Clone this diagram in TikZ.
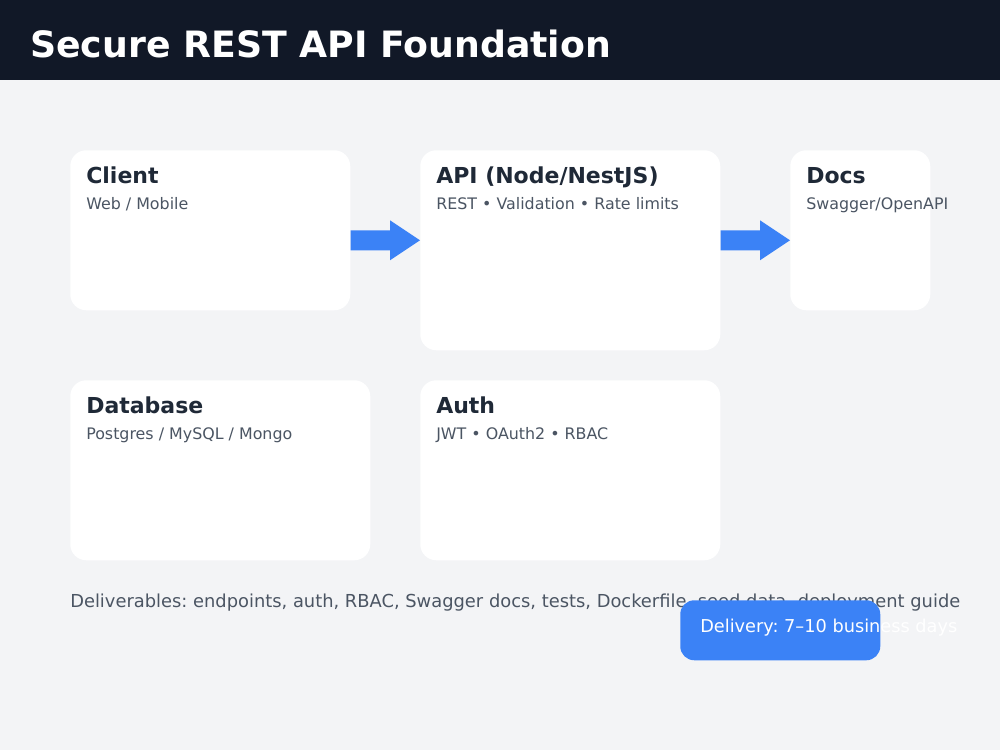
\documentclass[tikz,border=0pt]{standalone}
\usepackage{fontspec}
\setmainfont{DejaVu Sans}
\usetikzlibrary{calc}
\frenchspacing
\definecolor{bg}{HTML}{F3F4F6}
\definecolor{hdr}{HTML}{111827}
\definecolor{ttl}{HTML}{1F2937}
\definecolor{sub}{HTML}{4B5563}
\definecolor{blu}{HTML}{3B82F6}
\tikzset{
  x=0.75pt, y=-0.75pt,
  card/.style={fill=white, rounded corners=12pt, inner sep=0pt, anchor=north west},
  cardtitle/.style={anchor=base west, inner sep=0pt, text=ttl, font=\bfseries\fontsize{16.5}{20}\selectfont},
  cardsub/.style={anchor=base west, inner sep=0pt, text=sub, font=\fontsize{11.9}{14}\selectfont},
  flow/.style={fill=blu},
}
\begin{document}
\begin{tikzpicture}
\useasboundingbox (0,0) rectangle (1000,750);
\fill[bg] (0,0) rectangle (1000,750);
\fill[hdr] (0,0) rectangle (1000,80);
\node[anchor=base west, inner sep=0pt, text=white, font=\bfseries\fontsize{27.2}{32}\selectfont] (title) at (30,57) {Secure REST API Foundation};

\node[card, minimum width=210pt, minimum height=120pt] (client) at (70,150) {};
\node[card, minimum width=225pt, minimum height=150pt] (api) at (420,150) {};
\node[card, minimum width=105pt, minimum height=120pt] (docs) at (790,150) {};
\node[card, minimum width=225pt, minimum height=135pt] (db) at (70,380) {};
\node[card, minimum width=225pt, minimum height=135pt] (auth) at (420,380) {};

\node[cardtitle] (clientT) at (86,183) {Client};
\node[cardsub] (clientS) at (86,209) {Web / Mobile};
\node[cardtitle] (apiT) at (436,183) {API (Node/NestJS)};
\node[cardsub] (apiS) at (436,209) {REST • Validation • Rate limits};
\node[cardtitle] (docsT) at (806,183) {Docs};
\node[cardsub] (docsS) at (806,209) {Swagger/OpenAPI};
\node[cardtitle] (dbT) at (86,413) {Database};
\node[cardsub] (dbS) at (86,439) {Postgres / MySQL / Mongo};
\node[cardtitle] (authT) at (436,413) {Auth};
\node[cardsub] (authS) at (436,439) {JWT • OAuth2 • RBAC};

% block arrows
\coordinate (a1s) at ($(client.east)+(0,10)$);
\coordinate (a1e) at ($(api.west)+(0,-10)$);
\fill[flow] ($(a1s)+(0,-10)$) -- ($(a1e)+(-30,-10)$) -- ($(a1e)+(-30,-20)$) -- (a1e) -- ($(a1e)+(-30,20)$) -- ($(a1e)+(-30,10)$) -- ($(a1s)+(0,10)$) -- cycle;
\coordinate (a2s) at ($(api.east)+(0,-10)$);
\coordinate (a2e) at ($(docs.west)+(0,10)$);
\fill[flow] ($(a2s)+(0,-10)$) -- ($(a2e)+(-30,-10)$) -- ($(a2e)+(-30,-20)$) -- (a2e) -- ($(a2e)+(-30,20)$) -- ($(a2e)+(-30,10)$) -- ($(a2s)+(0,10)$) -- cycle;

\node[anchor=base west, inner sep=0pt, text=sub, font=\fontsize{13.4}{16}\selectfont] (deliv) at (70,607) {Deliverables: endpoints, auth, RBAC, Swagger docs, tests, Dockerfile, seed data, deployment guide};
\node[fill=blu, rounded corners=10.5pt, inner sep=0pt, anchor=north west, minimum width=150pt, minimum height=45pt] (badge) at (680,600) {};
\node[anchor=base west, inner sep=0pt, text=white, font=\fontsize{13.3}{16}\selectfont] (badgeT) at (700,632) {Delivery: 7–10 business days};
\end{tikzpicture}
\end{document}
